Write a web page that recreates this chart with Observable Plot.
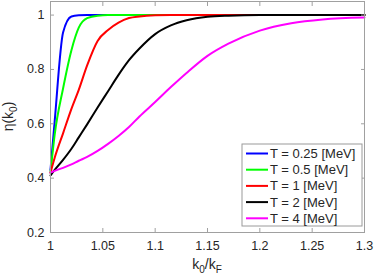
<!DOCTYPE html>
<html><head><meta charset="utf-8">
<script src="https://cdn.jsdelivr.net/npm/d3@7"></script>
<script src="https://cdn.jsdelivr.net/npm/@observablehq/plot@0.6"></script>
<style>body{margin:0;background:#fff} svg{display:block}</style>
</head><body><div id="chart"></div>
<script>
// k0/kF sample positions
const kGrid = [1, 1.004, 1.012, 1.02, 1.027, 1.035, 1.045, 1.055, 1.065, 1.075, 1.085, 1.1, 1.115, 1.13, 1.15, 1.17, 1.2, 1.23, 1.26, 1.3];
const seriesNames = ["T = 0.25 [MeV]", "T = 0.5 [MeV]", "T = 1 [MeV]", "T = 2 [MeV]", "T = 4 [MeV]"];
const seriesColors = ["#0000ff", "#00ff00", "#ff0000", "#000000", "#ff00ff"];
const etaT025 = [0.43, 0.61, 0.936, 0.995, 0.999, 1, 1, 1, 1, 1, 1, 1, 1, 1, 1, 1, 1, 1, 1, 1];
const etaT05  = [0.42, 0.56, 0.73, 0.871, 0.954, 0.989, 0.998, 1, 1, 1, 1, 1, 1, 1, 1, 1, 1, 1, 1, 1];
const etaT1   = [0.42, 0.475, 0.565, 0.655, 0.725, 0.815, 0.905, 0.945, 0.972, 0.989, 0.995, 0.999, 1, 1, 1, 1, 1, 1, 1, 1];
const etaT2   = [0.41, 0.43, 0.467, 0.508, 0.55, 0.598, 0.66, 0.72, 0.78, 0.834, 0.877, 0.93, 0.962, 0.981, 0.994, 0.998, 1, 1, 1, 1];
const etaT4   = [0.42, 0.427, 0.438, 0.451, 0.464, 0.478, 0.5, 0.526, 0.555, 0.588, 0.627, 0.68, 0.735, 0.787, 0.85, 0.895, 0.943, 0.97, 0.984, 0.991];
const xTicks = [1, 1.05, 1.1, 1.15, 1.2, 1.25, 1.3];
const yTicks = [0.2, 0.4, 0.6, 0.8, 1];

const allSeries = [etaT025, etaT05, etaT1, etaT2, etaT4];
const rows = [];
allSeries.forEach((vals, i) => vals.forEach((v, j) => rows.push({k: kGrid[j], eta: v, series: seriesNames[i]})));

const fontFamily = "'Liberation Sans', Arial, Helvetica, sans-serif";
const axisGray = "#a0a0a0";
const textColor = "#262626";

const plot = Plot.plot({
  width: 374, height: 279,
  marginLeft: 50, marginRight: 10, marginTop: 1, marginBottom: 47,
  style: {fontFamily, fontSize: "12.5px", color: textColor, background: "white"},
  x: {domain: [1, 1.3]},
  y: {domain: [0.2, 1.05]},
  color: {type: "ordinal", domain: seriesNames, range: seriesColors},
  marks: [
    Plot.line(rows, {x: "k", y: "eta", z: "series", stroke: "series", strokeWidth: 2, curve: "monotone-x"}),
    Plot.frame({stroke: axisGray}),
    Plot.axisX({ticks: xTicks, tickSize: -4, tickPadding: 13, tickFormat: d => String(d), label: null, stroke: axisGray, fill: textColor}),
    Plot.axisX({anchor: "top", ticks: xTicks, tickSize: -4, tickFormat: () => "", label: null, stroke: axisGray}),
    Plot.axisY({ticks: yTicks, tickSize: -4, tickPadding: 10, tickFormat: d => String(d), label: null, stroke: axisGray, fill: textColor}),
    Plot.axisY({anchor: "right", ticks: yTicks, tickSize: -4, tickFormat: () => "", label: null, stroke: axisGray})
  ]
});

const svg = d3.select(plot);
const W = 374, mL = 50, mR = 10, mT = 1, mB = 47, H = 279;
const cx = (mL + W - mR) / 2;

// x label k0/kF
const xl = svg.append("text").attr("x", cx).attr("y", H - 10).style("text-anchor", "middle")
  .style("font-family", fontFamily).style("font-size", "14px").style("fill", textColor);
xl.append("tspan").text("k");
xl.append("tspan").attr("dy", 4).style("font-size", "10px").text("0");
xl.append("tspan").attr("dy", -4).text("/k");
xl.append("tspan").attr("dy", 4).style("font-size", "10px").text("F");

// y label eta(k0)
const yl = svg.append("text").attr("transform", `translate(13,${(mT + H - mB) / 2}) rotate(-90)`)
  .style("text-anchor", "middle").style("font-family", fontFamily).style("font-size", "14px").style("fill", textColor);
yl.append("tspan").text("\u03b7(k");
yl.append("tspan").attr("dy", 4).style("font-size", "10px").text("0");
yl.append("tspan").attr("dy", -4).text(")");

// legend
const lg = svg.append("g");
const lx = 242, ly = 144, lw = 120, lh = 82, rowH = 16.2;
lg.append("rect").attr("x", lx).attr("y", ly).attr("width", lw).attr("height", lh)
  .style("fill", "#ffffff").style("stroke", "#9a9a9a").style("stroke-width", "1px");
seriesNames.forEach((name, i) => {
  const yy = ly + 9.5 + i * rowH;
  lg.append("line").attr("x1", lx + 4).attr("x2", lx + 26).attr("y1", yy).attr("y2", yy)
    .style("stroke", seriesColors[i]).style("stroke-width", "2px");
  lg.append("text").attr("x", lx + 28).attr("y", yy).attr("dy", "0.35em")
    .style("text-anchor", "start").style("font-family", fontFamily).style("font-size", "13px").style("fill", textColor)
    .text(name);
});

document.getElementById("chart").appendChild(plot);
</script>
</body></html>
